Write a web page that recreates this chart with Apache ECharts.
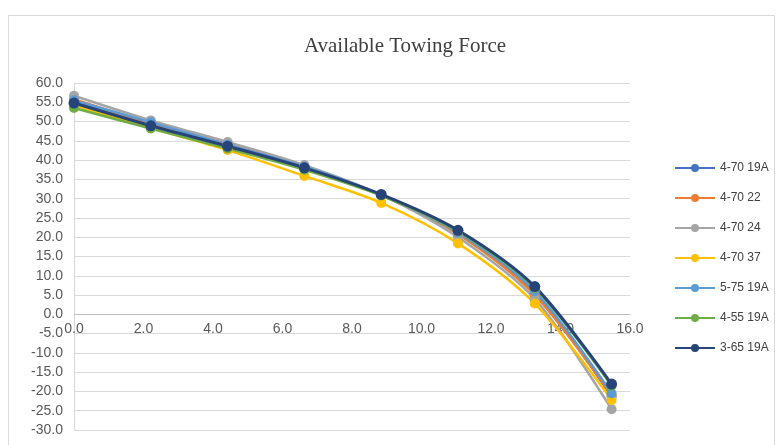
<!DOCTYPE html>
<html>
<head>
<meta charset="utf-8">
<script src="https://cdn.jsdelivr.net/npm/echarts@6/dist/echarts.min.js"></script>
<style>html,body{margin:0;padding:0;background:#fff}#c{width:779px;height:445px}</style>
</head>
<body>
<div id="c"></div>
<script>
const xValues = [0, 2.21, 4.42, 6.63, 8.84, 11.05, 13.26, 15.47];
const seriesNames = ['4-70 19A', '4-70 22', '4-70 24', '4-70 37', '5-75 19A', '4-55 19A', '3-65 19A'];
const s4_70_19A = [55.0, 49.2, 43.8, 38.0, 30.9, 21.0, 5.5, -21.3];
const s4_70_22  = [55.8, 49.5, 44.2, 38.3, 31.0, 20.8, 5.0, -20.9];
const s4_70_24  = [56.7, 50.3, 44.7, 38.7, 31.0, 20.0, 4.0, -24.6];
const s4_70_37  = [54.2, 48.3, 42.6, 35.9, 28.9, 18.4, 2.8, -22.2];
const s5_75_19A = [55.5, 49.8, 44.0, 38.3, 31.0, 21.2, 6.0, -20.5];
const s4_55_19A = [53.5, 48.2, 43.0, 37.5, 30.8, 21.5, 6.8, -18.5];
const s3_65_19A = [54.8, 48.9, 43.6, 38.0, 31.1, 21.8, 7.2, -18.1];
const allValues = [s4_70_19A, s4_70_22, s4_70_24, s4_70_37, s5_75_19A, s4_55_19A, s3_65_19A];
const colors = ['#4472C4', '#ED7D31', '#A5A5A5', '#FFC000', '#5B9BD5', '#70AD47', '#264478'];
const yMin = -30, yMax = 60;

const chart = echarts.init(document.getElementById('c'));
const font = 'Liberation Sans, Arial, sans-serif';
chart.setOption({
  animation: false,
  title: {
    text: 'Available Towing Force',
    left: 400, top: 31, textAlign: 'center',
    textStyle: { fontFamily: 'Liberation Serif, Times New Roman, serif', fontSize: 21, fontWeight: 'normal', color: '#404040' }
  },
  graphic: [{
    type: 'rect', shape: { x: 8.5, y: 15.5, width: 766, height: 440 },
    style: { fill: 'none', stroke: '#d9d9d9', lineWidth: 1 }, silent: true
  }],
  legend: {
    orient: 'vertical', left: 669, top: 157,
    itemWidth: 40, itemHeight: 10, itemGap: 18,
    textStyle: { fontFamily: font, fontSize: 12, color: '#404040' },
    data: seriesNames
  },
  grid: { left: 74, right: 149, top: 83, bottom: 15 },
  xAxis: {
    type: 'value', min: 0, max: 16, interval: 2,
    axisLine: { onZero: true, lineStyle: { color: '#bfbfbf' } },
    axisTick: { show: false },
    splitLine: { show: false },
    axisLabel: { fontFamily: font, fontSize: 14, color: '#595959', formatter: v => v.toFixed(1), margin: 6 }
  },
  yAxis: {
    type: 'value', min: yMin, max: yMax, interval: 5,
    axisLine: { show: true, onZero: false, lineStyle: { color: '#d9d9d9' } },
    axisTick: { show: false },
    splitLine: { lineStyle: { color: '#d9d9d9' } },
    axisLabel: { fontFamily: font, fontSize: 14, color: '#595959', formatter: v => v.toFixed(1), margin: 11 }
  },
  series: seriesNames.map((n, i) => ({
    name: n, type: 'line', smooth: 0.3,
    data: xValues.map((x, j) => [x, allValues[i][j]]),
    symbol: 'circle', symbolSize: i === 6 ? 11 : 10,
    lineStyle: { width: i === 6 ? 3 : 2.5, color: colors[i] },
    itemStyle: { color: colors[i] }
  }))
});
// place the x axis on the y = 0 line using the library's own scale
const zeroY = chart.convertToPixel({ yAxisIndex: 0 }, 0);
const bottomY = chart.convertToPixel({ yAxisIndex: 0 }, yMin);
if (Math.abs(zeroY - bottomY) > 1) {
  chart.setOption({ xAxis: { offset: zeroY - bottomY } });
}
</script>
</body>
</html>
